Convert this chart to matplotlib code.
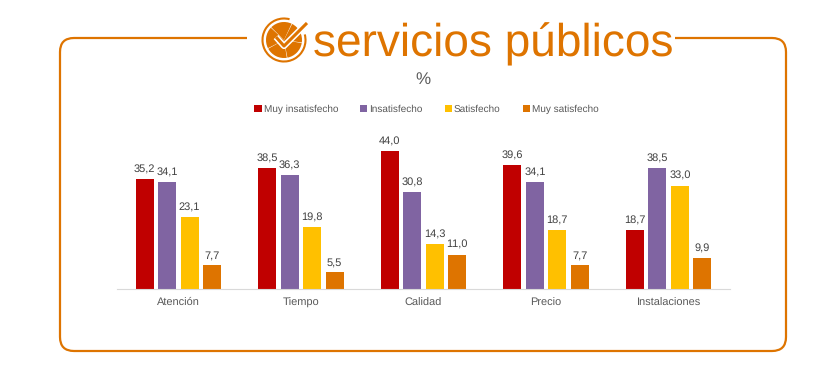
#!/usr/bin/env python3
"""Satisfaccion con servicios publicos"""
import matplotlib
matplotlib.use('Agg')
import matplotlib.pyplot as plt
from matplotlib.patches import FancyBboxPatch, Wedge, Arc, Rectangle
from matplotlib.transforms import Affine2D
import numpy as np

plt.rcParams['font.family'] = ['Liberation Sans', 'DejaVu Sans']
plt.rcParams['text.hinting'] = 'no_hinting'
plt.rcParams['text.hinting_factor'] = 1

categories = ['Atención', 'Tiempo', 'Calidad', 'Precio', 'Instalaciones']
muy_insatisfecho = [35.2, 38.5, 44.0, 39.6, 18.7]
insatisfecho = [34.1, 36.3, 30.8, 34.1, 38.5]
satisfecho = [23.1, 19.8, 14.3, 18.7, 33.0]
muy_satisfecho = [7.7, 5.5, 11.0, 7.7, 9.9]

series_names = ['Muy insatisfecho', 'Insatisfecho', 'Satisfecho', 'Muy satisfecho']
series_values = [muy_insatisfecho, insatisfecho, satisfecho, muy_satisfecho]

RED = '#C00000'
PURPLE = '#8064A2'
YELLOW = '#FFC000'
ORANGE = '#DE7400'
TEXT = '#404040'
colors = [RED, PURPLE, YELLOW, ORANGE]

W, H = 824, 381
fig = plt.figure(figsize=(W / 100, H / 100), dpi=100, facecolor='white')

# overlay in pixel coordinates for frame, logo and title
bg = fig.add_axes([0, 0, 1, 1])
bg.set_xlim(0, W)
bg.set_ylim(H, 0)
bg.axis('off')

frame = FancyBboxPatch((60, 38), 726, 313, boxstyle='round,pad=0,rounding_size=14',
                       facecolor='none', edgecolor=ORANGE, linewidth=1.6)
bg.add_patch(frame)
# white gap in the top line behind logo and title
bg.add_patch(Rectangle((247, 30), 428, 16, facecolor='white', edgecolor='none', zorder=2))

# logo
cx, cy = 284, 40
for a1, a2 in [(10, 79), (81, 151), (153, 223), (225, 295), (297, 368)]:
    bg.add_patch(Wedge((cx, cy), 18, a1, a2, facecolor=ORANGE, edgecolor='none', zorder=3))
bg.add_patch(Arc((cx, cy), 43, 43, theta1=-15, theta2=285, color=ORANGE, lw=1.5, zorder=3))
bg.plot([276, 284, 307], [37, 46, 23], color='white', lw=4.5, zorder=4, solid_capstyle='butt')
bg.plot([276, 284, 307], [37, 46, 23], color=ORANGE, lw=2.2, zorder=5, solid_capstyle='butt')

bg.text(313, 44, 'servicios públicos', fontsize=33.2, color=ORANGE, ha='left', va='center', zorder=6)
bg.text(423, 80, '%', fontsize=12, color='#595959', ha='center', va='center')

# bars
ax = fig.add_axes([117 / W, 1 - 289 / H, 613 / W, 150 / H])
ax.patch.set_alpha(0)
x = np.arange(len(categories))
pitch = 0.183
width = 0.147
for i, (name, values, color) in enumerate(zip(series_names, series_values, colors)):
    pos = x + (i - 1.5) * pitch
    ax.bar(pos, values, width, color=color, label=name)
    for xp, v in zip(pos, values):
        ax.annotate(f'{v:.1f}'.replace('.', ','), (xp, v), xytext=(0, 3),
                    textcoords='offset points', ha='center', va='bottom',
                    fontsize=7.8, color=TEXT)

ax.set_xlim(-0.5, 4.5)
ax.set_ylim(0, 150 / 3.136)
ax.set_xticks(x)
ax.set_xticklabels(categories, fontsize=7.8, color='#595959', va='bottom')
ax.tick_params(axis='x', length=0, pad=13.8)
# the accent pushes this label one pixel below the others
first = ax.get_xticklabels()[0]
first.set_transform(first.get_transform() + Affine2D().translate(0, 1))
ax.set_yticks([])
for side in ['top', 'left', 'right']:
    ax.spines[side].set_visible(False)
ax.spines['bottom'].set_color('#D9D9D9')
ax.spines['bottom'].set_linewidth(0.8)

handles, labels = ax.get_legend_handles_labels()
leg = fig.legend(handles, labels, loc='center', bbox_to_anchor=(426.5 / W, 1 - 109.5 / H), ncol=4,
                 frameon=False, fontsize=7.5, handlelength=0.7, handleheight=0.7,
                 handletextpad=0.2, columnspacing=2.1)
for t in leg.get_texts():
    t.set_color('#595959')

fig.savefig('out.png', dpi=100, facecolor='white')
plt.close(fig)
